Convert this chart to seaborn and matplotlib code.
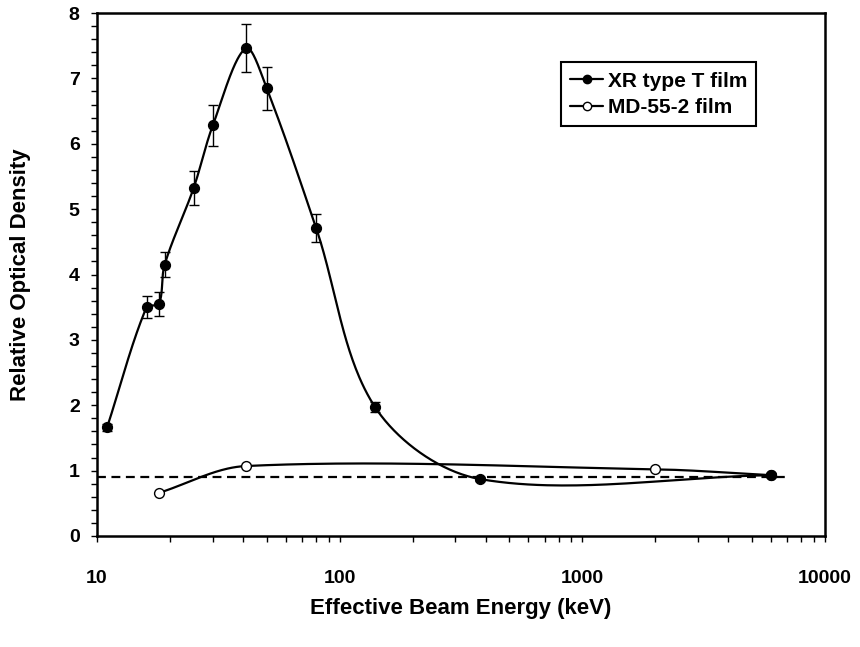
import matplotlib
matplotlib.use("Agg")
import matplotlib.pyplot as plt
from matplotlib.lines import Line2D
from matplotlib.ticker import LogLocator, MultipleLocator, NullFormatter
import numpy as np
import pandas as pd
import seaborn as sns

# ----------------------------------------------------------
# Data
# ----------------------------------------------------------
xr_energy = [11, 16, 18, 19, 25, 30, 41, 50, 80, 140, 380, 6000]
xr_od     = [1.66, 3.50, 3.55, 4.15, 5.32, 6.28, 7.46, 6.85, 4.71, 1.97, 0.87, 0.93]
xr_err    = [0.05, 0.17, 0.18, 0.19, 0.26, 0.31, 0.37, 0.33, 0.22, 0.08, 0.03, 0.03]

md_energy = [18, 41, 2000, 6000]
md_od     = [0.66, 1.07, 1.02, 0.93]

ref_level = 0.9
ref_span  = [10, 7000]

PX_DECADE = 242.7   # screen scale used for the smoothing (px per decade / per unit)
PX_UNIT   = 65.4


def smooth(xs, ys, n=60):
    """Excel-like smoothed line: chord-weighted bezier in screen space."""
    P = np.column_stack([np.log10(xs) * PX_DECADE, np.asarray(ys) * PX_UNIT])
    P = np.vstack([P[0], P, P[-1]])
    t = np.linspace(0, 1, n)[:, None]
    out = []
    for i in range(1, len(P) - 2):
        p0, p1, p2, p3 = P[i - 1], P[i], P[i + 1], P[i + 2]
        d01 = np.linalg.norm(p1 - p0)
        d12 = np.linalg.norm(p2 - p1)
        d23 = np.linalg.norm(p3 - p2)
        b1 = p1 + (p2 - p0) * (d12 / (d01 + d12)) / 3
        b2 = p2 - (p3 - p1) * (d12 / (d12 + d23)) / 3
        seg = ((1 - t) ** 3) * p1 + 3 * ((1 - t) ** 2) * t * b1 \
            + 3 * (1 - t) * t ** 2 * b2 + t ** 3 * p2
        out.append(seg)
    out = np.vstack(out)
    return pd.DataFrame({"x": 10 ** (out[:, 0] / PX_DECADE), "y": out[:, 1] / PX_UNIT})


sns.set_style("ticks")
plt.rcParams["font.family"] = ["Liberation Sans", "DejaVu Sans"]
plt.rcParams["font.weight"] = "bold"
for key in ["text.color", "axes.labelcolor", "xtick.color", "ytick.color"]:
    plt.rcParams[key] = "black"

fig = plt.figure(figsize=(8.6, 6.47), dpi=100)
ax = fig.add_axes([97 / 860, 1 - 536 / 647, 728 / 860, 523 / 647])

# reference dashed line
ax.plot(ref_span, [ref_level, ref_level], color="black", lw=1.6, ls=(0, (4, 2.5)))

# MD-55-2 film
md_curve = smooth(md_energy, md_od)
sns.lineplot(data=md_curve, x="x", y="y", sort=False, estimator=None,
             color="black", lw=1.6, ax=ax)
sns.scatterplot(x=md_energy, y=md_od, marker="o", s=50, color="white",
                edgecolor="black", linewidth=1.0, ax=ax, zorder=3)

# XR type T film
xr_curve = smooth(xr_energy, xr_od)
sns.lineplot(data=xr_curve, x="x", y="y", sort=False, estimator=None,
             color="black", lw=1.6, ax=ax)
ax.errorbar(xr_energy, xr_od, yerr=xr_err, fmt="none", ecolor="black",
            elinewidth=1.0, capsize=3.5, capthick=1.0, zorder=3)
sns.scatterplot(x=xr_energy, y=xr_od, marker="o", s=50, color="black",
                edgecolor="black", linewidth=1.0, ax=ax, zorder=4)

# axes
ax.set_xscale("log")
ax.set_xlim(10, 10000)
ax.set_ylim(0, 8)
ax.xaxis.set_minor_locator(LogLocator(base=10, subs=np.arange(2, 10)))
ax.xaxis.set_minor_formatter(NullFormatter())
ax.set_xticks([10, 100, 1000, 10000])
ax.set_xticklabels(["10", "100", "1000", "10000"])
ax.yaxis.set_major_locator(MultipleLocator(1))
ax.yaxis.set_minor_locator(MultipleLocator(0.2))

for side in ["top", "right", "left", "bottom"]:
    ax.spines[side].set_visible(True)
    ax.spines[side].set_linewidth(1.8)
    ax.spines[side].set_color("black")

ax.tick_params(axis="both", which="both", direction="out", color="black",
               width=1.0, length=4.5, labelsize=14)
ax.tick_params(axis="x", which="both", pad=20)
ax.tick_params(axis="y", which="both", pad=8)

ax.set_xlabel("Effective Beam Energy (keV)", fontsize=16, fontweight="bold", labelpad=8)
ax.set_ylabel("Relative Optical Density", fontsize=16, fontweight="bold", labelpad=27)

handles = [
    Line2D([0], [0], color="black", lw=1.6, marker="o", markersize=6,
           markerfacecolor="black", markeredgecolor="black"),
    Line2D([0], [0], color="black", lw=1.6, marker="o", markersize=6,
           markerfacecolor="white", markeredgecolor="black"),
]
leg = ax.legend(handles, ["XR type T film", "MD-55-2 film"],
                loc="upper left", bbox_to_anchor=(0.637, 0.906),
                frameon=True, fancybox=False, edgecolor="black",
                handlelength=1.6, handletextpad=0.2, borderpad=0.45,
                labelspacing=0.35, borderaxespad=0,
                prop={"size": 15, "weight": "bold"})
leg.get_frame().set_linewidth(1.5)
leg.get_frame().set_alpha(1)

fig.savefig("out.png", dpi=100)
